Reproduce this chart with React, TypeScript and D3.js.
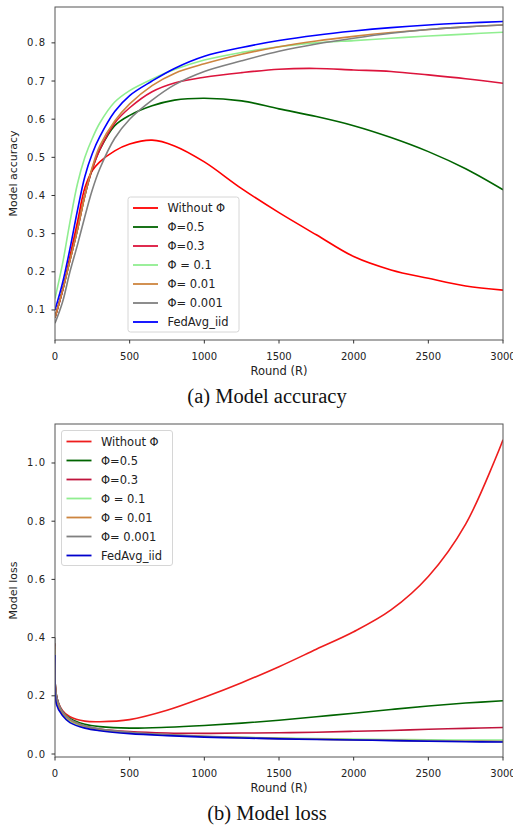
import * as d3 from 'd3';

// accuracy panel (a)
const accRounds = [0, 50, 100, 150, 200, 250, 300, 400, 500, 650, 800, 1000, 1250, 1500, 1750, 2000, 2250, 2500, 2750, 3000];
const accWithout = [0.08, 0.15, 0.24, 0.33, 0.42, 0.465, 0.488, 0.517, 0.535, 0.545, 0.53, 0.488, 0.418, 0.355, 0.297, 0.24, 0.205, 0.183, 0.163, 0.152];
const acc05 = [0.08, 0.15, 0.23, 0.31, 0.4, 0.47, 0.52, 0.583, 0.61, 0.635, 0.65, 0.655, 0.648, 0.627, 0.607, 0.583, 0.552, 0.515, 0.47, 0.415];
const acc03 = [0.08, 0.15, 0.23, 0.31, 0.4, 0.47, 0.52, 0.59, 0.63, 0.672, 0.695, 0.71, 0.722, 0.731, 0.733, 0.729, 0.725, 0.716, 0.706, 0.694];
const acc01 = [0.13, 0.22, 0.33, 0.43, 0.5, 0.55, 0.59, 0.645, 0.675, 0.705, 0.73, 0.755, 0.775, 0.79, 0.8, 0.806, 0.812, 0.818, 0.823, 0.828];
const acc001 = [0.08, 0.15, 0.23, 0.31, 0.4, 0.475, 0.53, 0.595, 0.64, 0.688, 0.72, 0.745, 0.77, 0.79, 0.805, 0.817, 0.827, 0.835, 0.842, 0.847];
const acc0001 = [0.065, 0.12, 0.2, 0.27, 0.345, 0.415, 0.47, 0.55, 0.6, 0.65, 0.69, 0.725, 0.753, 0.778, 0.797, 0.812, 0.825, 0.835, 0.842, 0.847];
const accIid = [0.1, 0.17, 0.26, 0.36, 0.45, 0.51, 0.554, 0.62, 0.662, 0.7, 0.733, 0.765, 0.788, 0.806, 0.82, 0.831, 0.84, 0.847, 0.852, 0.856];

// loss panel (b)
const lossRounds = [0, 10, 50, 100, 200, 300, 500, 750, 1000, 1250, 1500, 1750, 2000, 2250, 2500, 2750, 3000];
const lossWithout = [0.38, 0.2, 0.15, 0.128, 0.113, 0.111, 0.118, 0.15, 0.195, 0.245, 0.3, 0.36, 0.42, 0.495, 0.61, 0.79, 1.08];
const loss05 = [0.38, 0.2, 0.145, 0.122, 0.102, 0.094, 0.089, 0.092, 0.098, 0.106, 0.116, 0.128, 0.14, 0.153, 0.165, 0.175, 0.183];
const loss03 = [0.38, 0.2, 0.143, 0.118, 0.096, 0.086, 0.077, 0.072, 0.071, 0.072, 0.073, 0.075, 0.078, 0.081, 0.085, 0.088, 0.091];
const loss01 = [0.36, 0.18, 0.136, 0.113, 0.092, 0.082, 0.072, 0.065, 0.06, 0.057, 0.055, 0.053, 0.051, 0.05, 0.049, 0.048, 0.048];
const loss001 = [0.37, 0.19, 0.14, 0.117, 0.095, 0.084, 0.074, 0.066, 0.06, 0.056, 0.053, 0.051, 0.049, 0.047, 0.045, 0.044, 0.043];
const loss0001 = [0.4, 0.2, 0.146, 0.12, 0.097, 0.086, 0.075, 0.067, 0.061, 0.057, 0.054, 0.051, 0.049, 0.047, 0.046, 0.044, 0.043];
const lossIid = [0.34, 0.17, 0.132, 0.108, 0.089, 0.08, 0.07, 0.063, 0.058, 0.055, 0.052, 0.05, 0.048, 0.046, 0.044, 0.042, 0.041];

const xTicks = [0, 500, 1000, 1500, 2000, 2500, 3000];
const accTicks = [0.1, 0.2, 0.3, 0.4, 0.5, 0.6, 0.7, 0.8];
const lossTicks = [0, 0.2, 0.4, 0.6, 0.8, 1.0];

const accLabels = ['Without Φ', 'Φ=0.5', 'Φ=0.3', 'Φ = 0.1', 'Φ= 0.01', 'Φ= 0.001', 'FedAvg_iid'];
const lossLabels = ['Without Φ', 'Φ=0.5', 'Φ=0.3', 'Φ = 0.1', 'Φ = 0.01', 'Φ= 0.001', 'FedAvg_iid'];
const accColors = ['#ff0000', '#006400', '#dc143c', '#90ee90', '#cd853f', '#808080', '#0000ff'];
const lossColors = ['#ee1d1d', '#006400', '#c0143c', '#90ee90', '#cd853f', '#808080', '#0000cd'];

const SANS = 'DejaVu Sans, sans-serif';

interface PanelProps {
  id: string;
  top: number;
  bottom: number;
  yDomain: [number, number];
  rounds: number[];
  series: number[][];
  colors: string[];
  labels: string[];
  yTicks: number[];
  yLabel: string;
  legend: { x: number; y: number; w: number };
  caption: string;
}

function Panel(p: PanelProps) {
  const left = 55;
  const right = 503;
  const x = d3.scaleLinear().domain([0, 3000]).range([left, right]);
  const y = d3.scaleLinear().domain(p.yDomain).range([p.bottom, p.top]);
  const line = d3
    .line<number>()
    .x((_, i) => x(p.rounds[i]))
    .y((v) => y(v))
    .curve(d3.curveCatmullRom.alpha(0.5));
  const rowH = 19;

  return (
    <g>
      <defs>
        <clipPath id={p.id}>
          <rect x={left} y={p.top} width={right - left} height={p.bottom - p.top} />
        </clipPath>
      </defs>
      <g clipPath={`url(#${p.id})`}>
        {p.series.map((s, i) => (
          <path key={i} d={line(s) || ''} fill="none" stroke={p.colors[i]} strokeWidth={1.6} />
        ))}
      </g>
      <rect x={left} y={p.top} width={right - left} height={p.bottom - p.top} fill="none" stroke="#555" strokeWidth={1} />

      {/* y axis */}
      {p.yTicks.map((t) => (
        <g key={t}>
          <line x1={left - 3.5} x2={left} y1={y(t)} y2={y(t)} stroke="#333" />
          <text x={left - 9} y={y(t) + 3.5} textAnchor="end" fontSize={10} fontFamily={SANS} fill="#222" letterSpacing={1}>
            {t.toFixed(1)}
          </text>
        </g>
      ))}
      <text
        transform={`translate(17,${(p.top + p.bottom) / 2}) rotate(-90)`}
        textAnchor="middle"
        fontSize={11}
        fontFamily={SANS}
        fill="#222"
      >
        {p.yLabel}
      </text>

      {/* x axis */}
      {xTicks.map((t) => (
        <g key={t}>
          <line x1={x(t)} x2={x(t)} y1={p.bottom} y2={p.bottom + 3.5} stroke="#333" />
          <text x={x(t)} y={p.bottom + 20} textAnchor="middle" fontSize={10} fontFamily={SANS} fill="#222">
            {t}
          </text>
        </g>
      ))}
      <text x={(left + right) / 2} y={p.bottom + 35} textAnchor="middle" fontSize={11.5} fontFamily={SANS} fill="#222">
        Round (R)
      </text>

      {/* legend */}
      <rect
        x={p.legend.x}
        y={p.legend.y}
        width={p.legend.w}
        height={rowH * p.labels.length + 2}
        rx={2.5}
        fill="#fff"
        fillOpacity={0.85}
        stroke="#d6d6d6"
      />
      {p.labels.map((lab, i) => {
        const cy = p.legend.y + 11 + i * rowH;
        return (
          <g key={lab}>
            <line x1={p.legend.x + 5} x2={p.legend.x + 30} y1={cy} y2={cy} stroke={p.colors[i]} strokeWidth={1.8} />
            <text x={p.legend.x + 39.5} y={cy + 4.2} fontSize={11.5} fontFamily={SANS} fill="#222">
              {lab}
            </text>
          </g>
        );
      })}

      <text x={267} y={p.bottom + 63} textAnchor="middle" fontSize={20.5} fontFamily="Liberation Serif, Times New Roman, serif" fill="#111">
        {p.caption}
      </text>
    </g>
  );
}

export default function App() {
  return (
    <svg width={513} height={829} style={{ position: 'absolute', left: 0, top: 0, background: '#fff' }}>
      <rect width={513} height={829} fill="#fff" />
      <Panel
        id="clipAcc"
        top={7}
        bottom={340}
        yDomain={[0.0213, 0.894]}
        rounds={accRounds}
        series={[accWithout, acc05, acc03, acc01, acc001, acc0001, accIid]}
        colors={accColors}
        labels={accLabels}
        yTicks={accTicks}
        yLabel="Model accuracy"
        legend={{ x: 128, y: 197, w: 111 }}
        caption="(a)  Model accuracy"
      />
      <Panel
        id="clipLoss"
        top={424}
        bottom={757}
        yDomain={[-0.0103, 1.134]}
        rounds={lossRounds}
        series={[lossWithout, loss05, loss03, loss01, loss001, loss0001, lossIid]}
        colors={lossColors}
        labels={lossLabels}
        yTicks={lossTicks}
        yLabel="Model loss"
        legend={{ x: 61.5, y: 430.5, w: 111 }}
        caption="(b)  Model loss"
      />
    </svg>
  );
}
